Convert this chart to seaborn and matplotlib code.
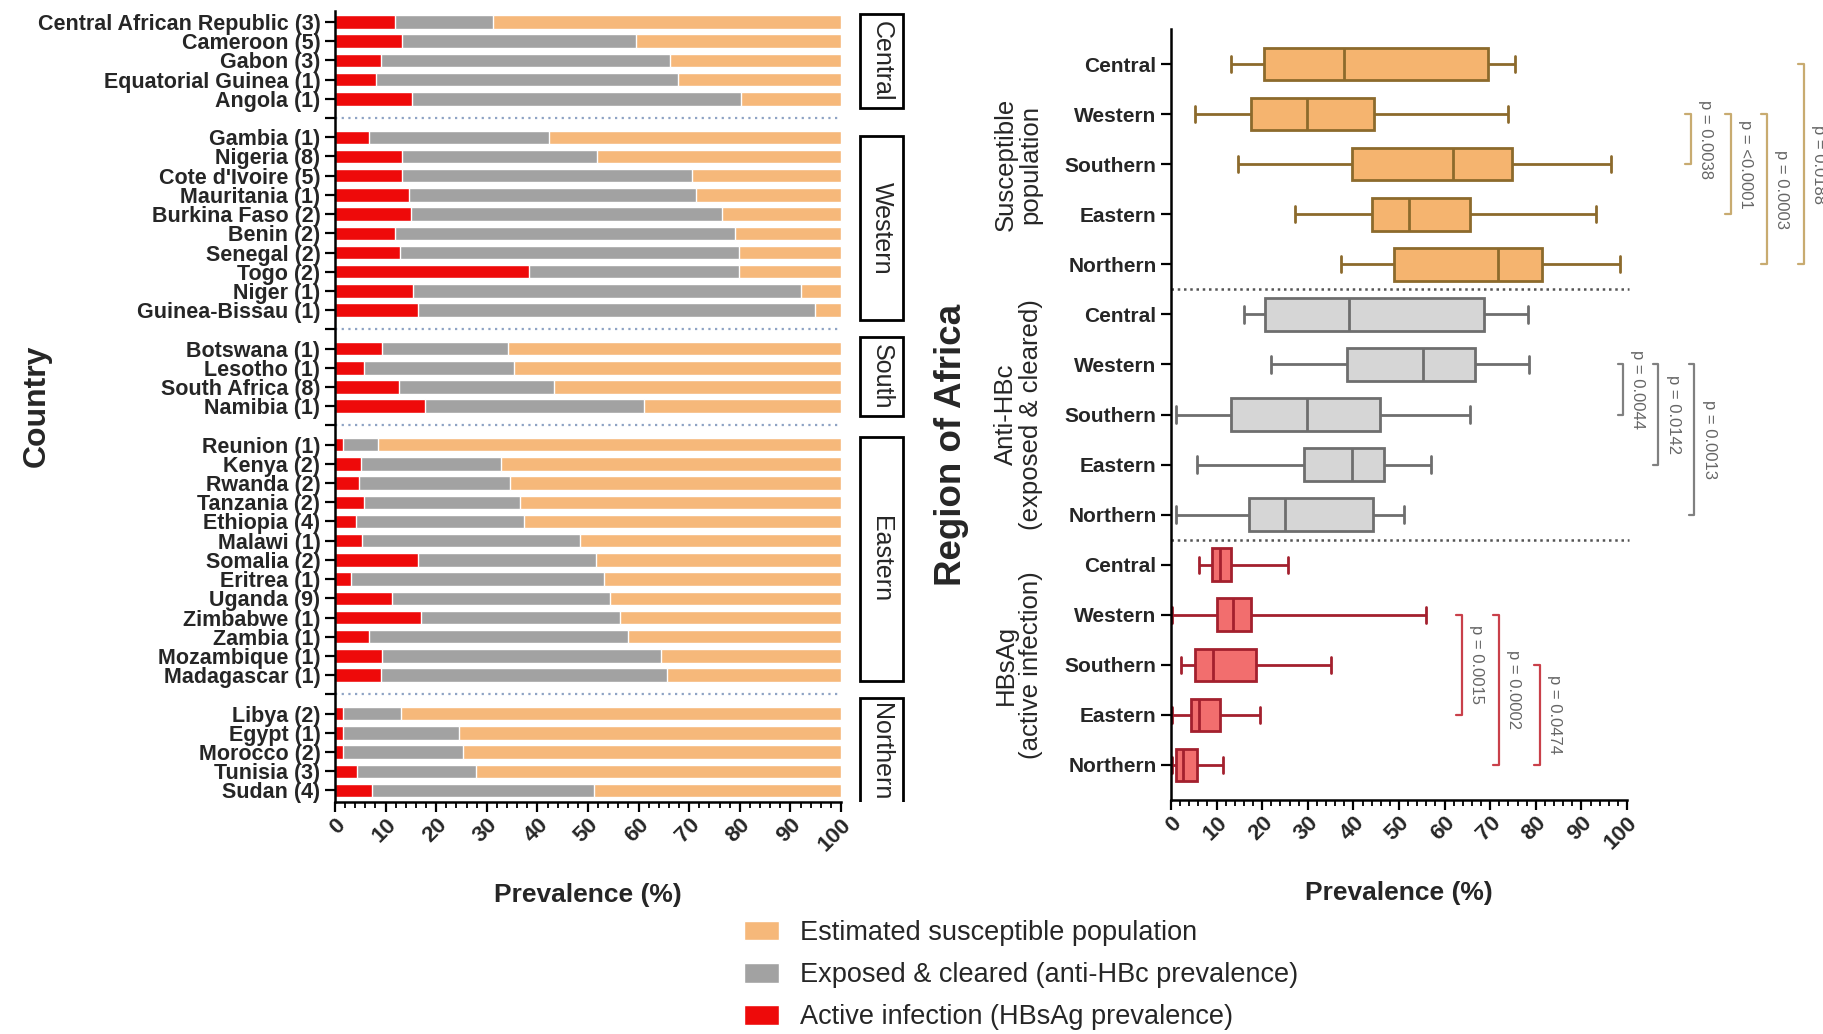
import numpy as np
import pandas as pd
import matplotlib
matplotlib.use("Agg")
import matplotlib.pyplot as plt
from matplotlib.patches import Patch, Rectangle
from matplotlib.ticker import MultipleLocator
import seaborn as sns

sns.set_style("ticks")
plt.rcParams['font.family'] = ['Liberation Sans', 'DejaVu Sans']

# ---- left panel: country level prevalence ----
central_countries = ["Central African Republic (3)", "Cameroon (5)", "Gabon (3)",
                     "Equatorial Guinea (1)", "Angola (1)"]
central_hbsag = [11.9, 13.3, 9.1, 8.2, 15.3]
central_antihbc = [31.2, 59.5, 66.3, 67.7, 80.2]

western_countries = ["Gambia (1)", "Nigeria (8)", "Cote d'Ivoire (5)", "Mauritania (1)",
                     "Burkina Faso (2)", "Benin (2)", "Senegal (2)", "Togo (2)",
                     "Niger (1)", "Guinea-Bissau (1)"]
western_hbsag = [6.7, 13.3, 13.3, 14.6, 15.0, 11.9, 12.9, 38.4, 15.5, 16.4]
western_antihbc = [42.2, 51.8, 70.5, 71.4, 76.5, 79.0, 79.9, 79.9, 92.1, 94.9]

south_countries = ["Botswana (1)", "Lesotho (1)", "South Africa (8)", "Namibia (1)"]
south_hbsag = [9.3, 5.7, 12.7, 17.8]
south_antihbc = [34.2, 35.4, 43.3, 61.1]

eastern_countries = ["Reunion (1)", "Kenya (2)", "Rwanda (2)", "Tanzania (2)", "Ethiopia (4)",
                     "Malawi (1)", "Somalia (2)", "Eritrea (1)", "Uganda (9)", "Zimbabwe (1)",
                     "Zambia (1)", "Mozambique (1)", "Madagascar (1)"]
eastern_hbsag = [1.6, 5.1, 4.8, 5.7, 4.2, 5.3, 16.4, 3.1, 11.2, 17.0, 6.7, 9.3, 9.0]
eastern_antihbc = [8.5, 32.8, 34.6, 36.5, 37.3, 48.4, 51.6, 53.2, 54.3, 56.3, 58.0, 64.5, 65.6]

northern_countries = ["Libya (2)", "Egypt (1)", "Morocco (2)", "Tunisia (3)", "Sudan (4)"]
northern_hbsag = [1.6, 1.6, 1.6, 4.4, 7.3]
northern_antihbc = [13.0, 24.6, 25.2, 27.8, 51.2]

facet_names = ["Central", "Western", "South", "Eastern", "Northern"]
# vertical extent of each facet box, in row units
facet_extent = [(-0.42, 4.48), (5.94, 15.52), (16.4, 20.5), (21.6, 34.3), (35.2, 40.8)]

# ---- right panel: five-number summaries (min, Q1, median, Q3, max) ----
box_regions = ["Central", "Western", "Southern", "Eastern", "Northern"]
susceptible = {"Central": [13.2, 20.3, 37.9, 69.6, 75.4],
               "Western": [5.2, 17.5, 29.9, 44.6, 73.9],
               "Southern": [14.8, 39.7, 61.8, 74.8, 96.4],
               "Eastern": [27.3, 44.0, 52.1, 65.6, 93.3],
               "Northern": [37.2, 48.9, 71.8, 81.3, 98.5]}
anti_hbc = {"Central": [16.0, 20.6, 39.0, 68.6, 78.2],
            "Western": [21.9, 38.5, 55.2, 66.7, 78.4],
            "Southern": [1.2, 13.2, 29.9, 45.9, 65.5],
            "Eastern": [5.8, 29.2, 39.8, 46.8, 57.0],
            "Northern": [1.2, 17.2, 24.9, 44.3, 51.1]}
hbsag = {"Central": [6.2, 8.9, 10.8, 13.2, 25.6],
         "Western": [0.2, 10.1, 13.5, 17.5, 56.0],
         "Southern": [2.2, 5.2, 9.2, 18.7, 35.1],
         "Eastern": [0.2, 4.3, 6.2, 10.7, 19.5],
         "Northern": [0.3, 1.2, 2.7, 5.8, 11.5]}

# p-value brackets: (from region, to region, label)
sus_pvals = [("Western", "Southern", "p = 0.0038"), ("Western", "Eastern", "p = <0.0001"),
             ("Western", "Northern", "p = 0.0003"), ("Central", "Northern", "p = 0.0188")]
anti_pvals = [("Western", "Southern", "p = 0.0044"), ("Western", "Eastern", "p = 0.0142"),
              ("Western", "Northern", "p = 0.0013")]
hbsag_pvals = [("Western", "Eastern", "p = 0.0015"), ("Western", "Northern", "p = 0.0002"),
               ("Southern", "Northern", "p = 0.0474")]

ORANGE = "#f6b87a"
GREY = "#a2a2a2"
RED = "#ee0a0a"

W, H = 1823, 1034
fig = plt.figure(figsize=(W / 100, H / 100), dpi=100)
ax_bar = fig.add_axes([335 / W, 1 - 802 / H, 506 / W, 790.6 / H])
ax_fac = fig.add_axes([858 / W, 1 - 802 / H, 47 / W, 790.6 / H])
ax_box = fig.add_axes([1171 / W, 1 - 800 / H, 456 / W, 771 / H])

# build country table with gap rows between regions
groups = [(central_countries, central_hbsag, central_antihbc),
          (western_countries, western_hbsag, western_antihbc),
          (south_countries, south_hbsag, south_antihbc),
          (eastern_countries, eastern_hbsag, eastern_antihbc),
          (northern_countries, northern_hbsag, northern_antihbc)]
rows, order, ticklabels, gaps = [], [], [], []
for gi, (names, hb, ab) in enumerate(groups):
    if gi > 0:
        gaps.append(len(order))
        order.append("gap%d" % gi)
        ticklabels.append("")
    for n, h, a in zip(names, hb, ab):
        rows.append({"country": n, "hbsag": h, "antihbc": a, "total": 100})
        order.append(n)
        ticklabels.append(n)
df = pd.DataFrame(rows)

for col, c in [("total", ORANGE), ("antihbc", GREY), ("hbsag", RED)]:
    sns.barplot(data=df, x=col, y="country", order=order, orient="h", color=c,
                saturation=1, width=0.7, errorbar=None, ax=ax_bar)

for g in gaps:
    ax_bar.plot([0, 100], [g, g], ls=(0, (1, 2)), color="#8ea3c4", lw=1.6)

ax_bar.set_ylim(40.6, -0.55)
ax_bar.set_xlim(0, 100)
ax_bar.set_yticks(range(len(order)))
ax_bar.set_yticklabels(ticklabels, fontsize=15.5, fontweight="bold")
ax_bar.set_xticks(range(0, 101, 10))
ax_bar.xaxis.set_minor_locator(MultipleLocator(2))
ax_bar.set_xticklabels([str(v) for v in range(0, 101, 10)], rotation=45, ha="right",
                       rotation_mode="anchor", fontsize=16, fontweight="bold")
ax_bar.set_xlabel("Prevalence (%)", fontsize=19, fontweight="bold", labelpad=20)
ax_bar.set_ylabel("")
ax_bar.text(-0.589, 20.0, "Country", transform=ax_bar.get_yaxis_transform(), rotation=90,
            ha="center", va="center", fontsize=23, fontweight="bold")

# facet boxes
ax_fac.set_ylim(40.6, -0.55)
ax_fac.axis("off")
for (y0, y1), name in zip(facet_extent, facet_names):
    ax_fac.add_patch(Rectangle((0.04, y0), 0.92, y1 - y0, fill=False, lw=2,
                               edgecolor="black", transform=ax_fac.get_yaxis_transform()))
    ax_fac.text(0.5, (y0 + y1) / 2, name, rotation=270, ha="center", va="center",
                fontsize=18, transform=ax_fac.get_yaxis_transform())

# ---- box plots ----
measures = [("Susceptible", susceptible, "#f5b46f", "#8c6a2c"),
            ("Anti", anti_hbc, "#d6d6d6", "#6e6e6e"),
            ("HBsAg", hbsag, "#f26e6e", "#a3202e")]
box_order = [m + "|" + r for m, _, _, _ in measures for r in box_regions]
for m, vals, fill, edge in measures:
    recs = [{"row": m + "|" + r, "value": v} for r in box_regions for v in vals[r]]
    bdf = pd.DataFrame(recs)
    sns.boxplot(data=bdf, x="value", y="row", order=box_order, orient="h", color=fill,
                linecolor=edge, linewidth=2, width=0.65, whis=(0, 100), saturation=1,
                ax=ax_box)

for sep in [4.5, 9.5]:
    ax_box.plot([0, 100.5], [sep, sep], ls=(0, (1, 1.5)), color="#555555", lw=1.8,
                clip_on=False)

ax_box.set_ylim(14.7, -0.7)
ax_box.set_xlim(0, 100)
ax_box.set_yticks(range(15))
ax_box.set_yticklabels(box_regions * 3, fontsize=15, fontweight="bold")
ax_box.set_xticks(range(0, 101, 10))
ax_box.xaxis.set_minor_locator(MultipleLocator(2))
ax_box.set_xticklabels([str(v) for v in range(0, 101, 10)], rotation=45, ha="right",
                       rotation_mode="anchor", fontsize=16, fontweight="bold")
ax_box.set_xlabel("Prevalence (%)", fontsize=19, fontweight="bold", labelpad=20)
ax_box.set_ylabel("")

ytr = ax_box.get_yaxis_transform()
ax_box.text(-0.482, 7.6, "Region of Africa", transform=ytr, rotation=90, ha="center",
            va="center", fontsize=26.5, fontweight="bold")
for i, lab in enumerate(["Susceptible\npopulation", "Anti-HBc\n(exposed & cleared)",
                         "HBsAg\n(active infection)"]):
    ax_box.text(-0.335, 5 * i + 2, lab, transform=ytr, rotation=90, ha="center",
                va="center", multialignment="center", fontsize=18.5, linespacing=1.05)

# brackets
bracket_sets = [(0, sus_pvals, [114.0, 122.7, 130.6, 138.8], "#c8ab70"),
                (5, anti_pvals, [99.2, 106.9, 114.8], "#808080"),
                (10, hbsag_pvals, [63.8, 71.9, 80.9], "#c9404a")]
for off, pv, xs, col in bracket_sets:
    for (a, b, lab), x in zip(pv, xs):
        y0 = off + box_regions.index(a)
        y1 = off + box_regions.index(b)
        ax_box.plot([x - 1.2, x, x, x - 1.2], [y0, y0, y1, y1], color=col, lw=1.6,
                    clip_on=False)
        ax_box.text(x + 3.2, (y0 + y1) / 2, lab, rotation=270, ha="center", va="center",
                    fontsize=12, color="#666666", clip_on=False)

for ax in (ax_bar, ax_box):
    sns.despine(ax=ax)
    for sp in ("left", "bottom"):
        ax.spines[sp].set_linewidth(1.8)
        ax.spines[sp].set_color("black")
    ax.tick_params(axis="both", which="major", length=7, width=1.6, color="black")
    ax.tick_params(axis="x", which="minor", length=4, width=1.3, color="black")
    ax.tick_params(axis="x", pad=2)

# legend
handles = [Patch(facecolor=ORANGE, label="Estimated susceptible population"),
           Patch(facecolor=GREY, label="Exposed & cleared (anti-HBc prevalence)"),
           Patch(facecolor=RED, label="Active infection (HBsAg prevalence)")]
fig.legend(handles=handles, loc="upper left", bbox_to_anchor=(744 / W, 1 - 920 / H),
           frameon=False, fontsize=19.5, handlelength=1.3, handleheight=0.75,
           handletextpad=0.75, labelspacing=0.6, borderpad=0, borderaxespad=0)

fig.savefig("out.png", dpi=100)
